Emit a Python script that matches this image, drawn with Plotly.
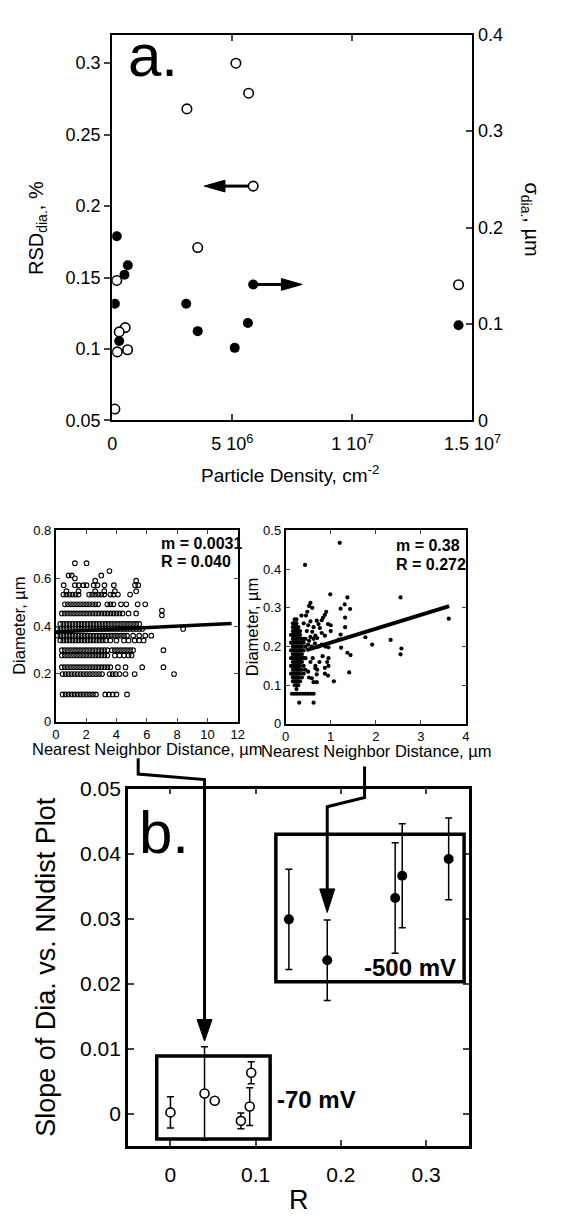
import plotly.graph_objects as go

W, H = 572, 1220
FONT = "Liberation Sans, Arial, Helvetica, sans-serif"

# ---------------- (a) dispersion vs. particle density ----------------
density_open = [5.15e6, 5.68e6, 3.11e6, 5.87e6, 3.56e6, 0.19e6, 14.42e6, 0.54e6, 0.29e6, 0.21e6, 0.64e6, 0.11e6]
rsd_open = [0.300, 0.279, 0.268, 0.214, 0.171, 0.148, 0.145, 0.115, 0.112, 0.098, 0.0995, 0.058]
density_filled = [0.19e6, 0.65e6, 0.51e6, 0.11e6, 3.08e6, 5.87e6, 5.65e6, 3.56e6, 5.10e6, 14.42e6, 0.29e6]
sigma_filled = [0.191, 0.161, 0.151, 0.121, 0.121, 0.141, 0.101, 0.0926, 0.0753, 0.0987, 0.0824]

density_ticks = [0, 5e6, 1e7, 1.5e7]
density_ticktext = ["0", "5 10<sup>6</sup>", "1 10<sup>7</sup>", "1.5 10<sup>7</sup>"]
rsd_ticks = [0.05, 0.1, 0.15, 0.2, 0.25, 0.3]
rsd_ticktext = ["0.05", "0.1", "0.15", "0.2", "0.25", "0.3"]
sigma_ticks = [0, 0.1, 0.2, 0.3, 0.4]
sigma_ticktext = ["0", "0.1", "0.2", "0.3", "0.4"]

# ---------------- inset: -70 mV deposit (diameter rows, NN distances) ----------------
ctrl_diam = [0.663, 0.630, 0.612, 0.600, 0.590, 0.571, 0.546, 0.532, 0.491, 0.465,
             0.453, 0.445, 0.409, 0.388, 0.360, 0.340, 0.299, 0.277, 0.228, 0.199, 0.114]
ctrl_nn = [
    [1.26, 2.03],
    [3.54],
    [0.85, 1.05, 3.00],
    [1.26],
    [2.60, 5.30],
    [0.52, 1.26, 1.51, 1.82, 2.03, 2.50, 2.75, 3.21, 3.83, 5.23, 5.44],
    [0.70, 1.50, 2.60, 3.20, 3.90, 5.30],
    [0.50, 0.70, 0.90, 1.10, 1.30, 1.50, 2.20, 2.40, 2.60, 2.80, 3.00, 3.20, 3.60, 3.80, 4.10, 4.90],
    [0.60, 0.80, 1.00, 1.20, 1.40, 1.60, 1.80, 2.00, 2.20, 2.40, 2.60, 2.80, 3.40, 3.60, 3.80,
     4.30, 4.65, 5.40, 5.90],
    [7.00],
    [0.40, 0.60, 0.80, 1.00, 1.20, 1.40, 1.60, 1.80, 2.00, 2.20, 2.40, 2.60, 2.80, 3.00, 3.20,
     3.40, 3.60, 3.80, 4.00, 4.20, 4.40, 4.80, 5.30],
    [7.00],
    [0.30, 0.50, 0.70, 0.90, 1.10, 1.30, 1.50, 1.70, 1.90, 2.10, 2.30, 2.50, 2.70, 2.90, 3.10,
     3.30, 3.50, 3.70, 3.90, 4.10, 4.30, 4.50, 4.70, 4.90, 5.10, 5.30, 5.50],
    [0.10, 0.30, 0.50, 0.70, 0.90, 1.10, 1.30, 1.50, 1.70, 1.90, 2.10, 2.30, 2.50, 2.70, 2.90,
     3.10, 3.30, 3.50, 3.70, 3.90, 4.10, 4.30, 4.50, 4.70, 4.90, 5.10, 5.30, 5.50, 5.70, 8.40],
    [0.10, 0.30, 0.50, 0.70, 0.90, 1.10, 1.30, 1.50, 1.70, 1.90, 2.10, 2.30, 2.50, 2.70, 2.90,
     3.10, 3.30, 3.50, 3.70, 3.90, 4.10, 4.30, 4.50, 4.70, 5.10, 5.50, 5.90, 6.30],
    [0.30, 0.50, 0.70, 0.90, 1.10, 1.30, 1.50, 1.70, 1.90, 2.10, 2.30, 2.50, 2.70, 2.90, 3.10,
     3.30, 3.60, 4.00, 4.50, 4.80, 5.20, 5.50, 5.80],
    [0.40, 0.60, 0.80, 1.00, 1.20, 1.40, 1.60, 1.80, 2.00, 2.20, 2.40, 2.60, 2.80, 3.00, 3.20,
     3.40, 3.70, 3.90, 4.10, 4.30, 4.50, 4.70, 4.90, 5.10, 7.10],
    [0.40, 0.60, 0.80, 1.00, 1.20, 1.40, 1.60, 1.80, 2.00, 2.20, 2.40, 2.60, 2.80, 3.00, 3.20,
     3.40, 3.90, 4.20, 4.50, 4.80, 5.00],
    [0.40, 0.60, 0.80, 1.00, 1.20, 1.40, 1.60, 1.80, 2.00, 2.20, 2.40, 2.60, 2.80, 3.00, 3.20,
     3.40, 3.60, 4.10, 4.60, 5.70, 7.10],
    [0.45, 0.65, 0.85, 1.05, 1.25, 1.45, 1.65, 1.85, 2.05, 2.25, 2.45, 2.65, 2.85, 3.05, 3.55,
     3.75, 3.95, 4.20, 4.60, 5.20, 7.80],
    [0.45, 0.65, 0.85, 1.05, 1.25, 1.45, 1.65, 1.85, 2.05, 2.25, 2.45, 2.65, 3.26, 3.50, 3.75,
     4.00, 4.70],
]
ctrl_fit_m, ctrl_fit_b = 0.0031, 0.375
ctrl_fit_x = [0.0, 11.6]

# ---------------- inset: -500 mV deposit ----------------
neg_col_x = [0.12, 0.16, 0.20, 0.24, 0.28, 0.32, 0.36, 0.40, 0.44]
neg_col_y = [
    [0.13, 0.15, 0.17, 0.19, 0.21, 0.23],
    [0.11, 0.12, 0.13, 0.14, 0.15, 0.16, 0.17, 0.18, 0.19, 0.20, 0.21, 0.22, 0.23, 0.24, 0.25, 0.26],
    [0.10, 0.11, 0.12, 0.13, 0.14, 0.15, 0.16, 0.17, 0.18, 0.19, 0.20, 0.21, 0.22, 0.23, 0.24, 0.25, 0.26, 0.27],
    [0.09, 0.10, 0.11, 0.12, 0.13, 0.14, 0.15, 0.16, 0.17, 0.18, 0.19, 0.20, 0.21, 0.22, 0.23, 0.24, 0.25, 0.26, 0.27],
    [0.10, 0.11, 0.12, 0.13, 0.14, 0.15, 0.16, 0.17, 0.18, 0.19, 0.20, 0.21, 0.22, 0.23, 0.24, 0.25],
    [0.11, 0.13, 0.14, 0.15, 0.16, 0.17, 0.18, 0.19, 0.20, 0.21, 0.22, 0.23, 0.24],
    [0.12, 0.14, 0.16, 0.17, 0.18, 0.19, 0.20, 0.21, 0.22],
    [0.13, 0.15, 0.17, 0.19, 0.21, 0.22],
    [0.14, 0.17, 0.20, 0.22],
]
neg_nn = [1.20, 0.43, 2.55, 0.99, 1.37, 3.62, 2.57, 2.55, 2.33, 1.92, 1.77, 1.41, 1.07, 1.23,
          1.37, 1.44, 1.43, 1.31, 1.22, 1.32, 1.32, 1.22, 1.18,
          0.55, 0.52, 0.48, 0.45, 0.59, 0.87, 0.83, 0.80, 0.90, 0.94, 0.69, 0.73, 0.62, 0.76,
          0.59, 0.80, 1.00, 1.00, 0.66, 0.87, 0.52, 0.50, 0.55, 0.35, 0.40, 0.47,
          0.50, 0.58, 0.65, 0.72, 0.80, 0.88, 0.95, 0.55, 0.62, 0.70,
          0.55, 0.60, 0.66, 0.70, 0.75, 0.82, 0.87, 0.87, 0.92, 0.95, 0.66, 0.69, 0.52, 0.69,
          0.62, 0.50, 0.58, 0.95, 0.94,
          0.14, 0.20, 0.26, 0.32, 0.38, 0.44, 0.50, 0.56, 0.62, 0.30, 0.62]
neg_diam = [0.468, 0.411, 0.327, 0.335, 0.327, 0.272, 0.195, 0.180, 0.217, 0.205, 0.224, 0.133, 0.110, 0.197,
            0.184, 0.178, 0.297, 0.309, 0.298, 0.275, 0.250, 0.231, 0.218,
            0.313, 0.305, 0.290, 0.280, 0.300, 0.282, 0.275, 0.268, 0.290, 0.258, 0.267, 0.258, 0.250, 0.248,
            0.238, 0.235, 0.255, 0.240, 0.228, 0.228, 0.215, 0.255, 0.265, 0.280, 0.260, 0.240,
            0.205, 0.200, 0.208, 0.200, 0.205, 0.200, 0.198, 0.225, 0.220, 0.222,
            0.160, 0.170, 0.150, 0.140, 0.160, 0.175, 0.145, 0.130, 0.160, 0.170, 0.144, 0.128, 0.120, 0.108,
            0.108, 0.135, 0.118, 0.150, 0.125,
            0.078, 0.078, 0.078, 0.078, 0.078, 0.078, 0.078, 0.078, 0.078, 0.055, 0.055]
neg_fit_m, neg_fit_b = 0.036, 0.174
neg_fit_x = [0.46, 3.63]

# ---------------- (b) slope vs. correlation coefficient ----------------
r_low = [0.0, 0.040, 0.052, 0.0827, 0.093, 0.0948]
slope_low = [0.0002, 0.0031, 0.0020, -0.0011, 0.0011, 0.0063]
err_low = [0.0024, 0.0072, 0.0, 0.0012, 0.0029, 0.0017]
r_high = [0.139, 0.184, 0.2637, 0.272, 0.3265]
slope_high = [0.0299, 0.0236, 0.0332, 0.0366, 0.0392]
err_high = [0.0077, 0.0062, 0.0085, 0.0080, 0.0063]
group_labels = ["-70 mV", "-500 mV"]


# ---------------- layout helpers (pixel -> paper) ----------------
def PX(x):
    return x / W


def PY(y):
    return 1 - y / H


A_BOX = (114, 497, 23, 416)      # left, right, top, bottom in pixels
L_BOX = (54, 247.4, 528, 722.7)
R_BOX = (298.4, 490, 528, 725)
B_BOX = (130.6, 493, 791, 1155)


def dom(box):
    l, r, t, b = box
    return [PX(l), PX(r)], [PY(b), PY(t)]


A_RANGE_X, A_RANGE_Y, A_RANGE_Y2 = [0, 1.5e7], [0.05, 0.32], [0, 0.4]
L_RANGE_X, L_RANGE_Y = [0, 12], [0, 0.8]
R_RANGE_X, R_RANGE_Y = [0, 4], [0, 0.5]
B_RANGE_X, B_RANGE_Y = [-0.05, 0.35], [-0.005, 0.05]


def to_px(box, rx, ry, x, y):
    l, r, t, b = box
    return (l + (x - rx[0]) / (rx[1] - rx[0]) * (r - l),
            b - (y - ry[0]) / (ry[1] - ry[0]) * (b - t))


fig = go.Figure()

# panel (a)
fig.add_trace(go.Scatter(x=density_filled, y=sigma_filled, xaxis="x", yaxis="y2", mode="markers",
                         marker=dict(symbol="circle", size=10, color="black"), showlegend=False))
fig.add_trace(go.Scatter(x=density_open, y=rsd_open, xaxis="x", yaxis="y", mode="markers",
                         marker=dict(symbol="circle", size=9.5, color="white",
                                     line=dict(color="black", width=1.6)), showlegend=False))

# inset -70 mV
cx, cy = [], []
for d, row in zip(ctrl_diam, ctrl_nn):
    cx += row
    cy += [d] * len(row)
fig.add_trace(go.Scatter(x=cx, y=cy, xaxis="x3", yaxis="y3", mode="markers",
                         marker=dict(symbol="circle-open", size=4.6, color="black", line=dict(width=1.1)),
                         showlegend=False))
fig.add_trace(go.Scatter(x=ctrl_fit_x, y=[ctrl_fit_b + ctrl_fit_m * v for v in ctrl_fit_x],
                         xaxis="x3", yaxis="y3", mode="lines", line=dict(color="black", width=3.5),
                         showlegend=False))

# inset -500 mV
nx, ny = list(neg_nn), list(neg_diam)
for xc, col in zip(neg_col_x, neg_col_y):
    nx += [xc] * len(col)
    ny += col
fig.add_trace(go.Scatter(x=nx, y=ny, xaxis="x4", yaxis="y4", mode="markers",
                         marker=dict(symbol="circle", size=4.2, color="black"), showlegend=False))
fig.add_trace(go.Scatter(x=neg_fit_x, y=[neg_fit_b + neg_fit_m * v for v in neg_fit_x],
                         xaxis="x4", yaxis="y4", mode="lines", line=dict(color="black", width=4),
                         showlegend=False))

# panel (b)
fig.add_trace(go.Scatter(x=r_low, y=slope_low, xaxis="x5", yaxis="y5", mode="markers",
                         error_y=dict(type="data", array=err_low, visible=True, color="black",
                                      thickness=1.5, width=3.5),
                         marker=dict(symbol="circle", size=9, color="white",
                                     line=dict(color="black", width=1.6)), showlegend=False))
fig.add_trace(go.Scatter(x=r_high, y=slope_high, xaxis="x5", yaxis="y5", mode="markers",
                         error_y=dict(type="data", array=err_high, visible=True, color="black",
                                      thickness=1.5, width=3.5),
                         marker=dict(symbol="circle", size=10, color="black"), showlegend=False))

tickfont_a = dict(family=FONT, size=18, color="black")
tickfont_i = dict(family=FONT, size=13, color="black")
tickfont_b = dict(family=FONT, size=21, color="black")
common = dict(showgrid=False, zeroline=False, showline=True, linecolor="black")

adx, ady = dom(A_BOX)
ldx, ldy = dom(L_BOX)
rdx, rdy = dom(R_BOX)
bdx, bdy = dom(B_BOX)

fig.update_layout(
    width=W, height=H, margin=dict(l=0, r=0, t=0, b=0),
    paper_bgcolor="white", plot_bgcolor="white", showlegend=False,
    font=dict(family=FONT, color="black"),
    xaxis=dict(domain=adx, anchor="y", range=A_RANGE_X, tickvals=density_ticks, ticktext=density_ticktext,
               ticks="inside", ticklen=6, tickwidth=1.5, mirror="ticks", linewidth=2,
               tickfont=tickfont_a, ticklabelstandoff=6, **common),
    yaxis=dict(domain=ady, anchor="x", range=A_RANGE_Y, tickvals=rsd_ticks, ticktext=rsd_ticktext,
               ticks="outside", ticklen=6, tickwidth=1.5, linewidth=2, tickfont=tickfont_a, **common),
    yaxis2=dict(anchor="x", overlaying="y", side="right", range=A_RANGE_Y2, tickvals=sigma_ticks,
                ticktext=sigma_ticktext, ticks="inside", ticklen=6, tickwidth=1.5, linewidth=2,
                tickfont=tickfont_a, **common),
    xaxis3=dict(domain=ldx, anchor="y3", range=L_RANGE_X, dtick=2, ticks="inside", ticklen=4,
                mirror="ticks", linewidth=1.8, tickfont=tickfont_i, **common),
    yaxis3=dict(domain=ldy, anchor="x3", range=L_RANGE_Y, tickvals=[0, 0.2, 0.4, 0.6, 0.8],
                ticktext=["0", "0.2", "0.4", "0.6", "0.8"], ticks="inside", ticklen=4,
                mirror="ticks", linewidth=1.8, tickfont=tickfont_i, **common),
    xaxis4=dict(domain=rdx, anchor="y4", range=R_RANGE_X, dtick=1, ticks="inside", ticklen=4,
                mirror="ticks", linewidth=1.8, tickfont=tickfont_i, **common),
    yaxis4=dict(domain=rdy, anchor="x4", range=R_RANGE_Y, tickvals=[0, 0.1, 0.2, 0.3, 0.4, 0.5],
                ticktext=["0", "0.1", "0.2", "0.3", "0.4", "0.5"], ticks="inside", ticklen=4,
                mirror="ticks", linewidth=1.8, tickfont=tickfont_i, **common),
    xaxis5=dict(domain=bdx, anchor="y5", range=B_RANGE_X, tickvals=[0, 0.1, 0.2, 0.3],
                ticktext=["0", "0.1", "0.2", "0.3"], ticks="inside", ticklen=6, tickwidth=1.5,
                mirror="ticks", linewidth=2.5, tickfont=tickfont_b, ticklabelstandoff=8, **common),
    yaxis5=dict(domain=bdy, anchor="x5", range=B_RANGE_Y, tickvals=[0, 0.01, 0.02, 0.03, 0.04, 0.05],
                ticktext=["0", "0.01", "0.02", "0.03", "0.04", "0.05"], ticks="inside", ticklen=6,
                tickwidth=1.5, mirror="ticks", linewidth=2.5, tickfont=tickfont_b, **common),
)

shapes = []


def path_shape(pts, closed=False, fill=None, width=3):
    d = "M " + " L ".join(f"{PX(x):.5f},{PY(y):.5f}" for x, y in pts)
    if closed:
        d += " Z"
    return dict(type="path", xref="paper", yref="paper", path=d,
                line=dict(color="black", width=width), fillcolor=fill if fill else "rgba(0,0,0,0)")


def arrow_h(x0, y, direction):
    # horizontal arrow starting beside a marker, pointing left (-1) or right (+1)
    start = x0 + direction * 5
    base = x0 + direction * 30
    tip = x0 + direction * 52
    return [path_shape([(start, y), (base, y)], width=3),
            path_shape([(base, y - 6), (tip, y), (base, y + 6)], closed=True, fill="black", width=1)]


ox, oy = to_px(A_BOX, A_RANGE_X, A_RANGE_Y, density_open[3], rsd_open[3])
fx, fy = to_px(A_BOX, A_RANGE_X, A_RANGE_Y2, density_filled[5], sigma_filled[5])
shapes += arrow_h(ox, oy, -1)
shapes += arrow_h(fx, fy, +1)

# connectors from the insets to panel (b)
lx, _ = to_px(B_BOX, B_RANGE_X, B_RANGE_Y, r_low[1], 0)
rx, _ = to_px(B_BOX, B_RANGE_X, B_RANGE_Y, r_high[1], 0)
shapes.append(path_shape([(141.6, 760), (141.6, 776), (lx, 781.7), (lx, 1027)], width=3))
shapes.append(path_shape([(lx - 8, 1026), (lx, 1048), (lx + 8, 1026)], closed=True, fill="black", width=1))
shapes.append(path_shape([(382.3, 768.3), (382.3, 800), (rx, 809.3), (rx, 894)], width=3))
shapes.append(path_shape([(rx - 8, 893), (rx, 917), (rx + 8, 893)], closed=True, fill="black", width=1))

# group boxes in panel (b)
shapes.append(dict(type="rect", xref="x5", yref="y5", x0=-0.0161, x1=0.117, y0=-0.0039, y1=0.00887,
                   line=dict(color="black", width=3.5)))
shapes.append(dict(type="rect", xref="x5", yref="y5", x0=0.1237, x1=0.3446, y0=0.0203, y1=0.043,
                   line=dict(color="black", width=3.5)))

fig.update_layout(shapes=shapes)


def ann(text, x, y, size, xanchor="center", yanchor="middle", angle=0, bold=False):
    if bold:
        text = f"<b>{text}</b>"
    return dict(text=text, x=PX(x), y=PY(y), xref="paper", yref="paper", showarrow=False,
                xanchor=xanchor, yanchor=yanchor, textangle=angle,
                font=dict(family=FONT, size=size, color="black"))


annotations = [
    ann("a.", 129, 44, 60, xanchor="left"),
    ann("RSD<sub>dia.</sub>, %", 34, 220, 20, angle=-90),
    ann("σ<sub>dia.</sub>, µm", 559, 211, 20, angle=90),
    ann("Particle Density, cm<sup>-2</sup>", 303, 470, 19),
    ann("Diameter, µm", 15, 625, 16.5, angle=-90),
    ann("Diameter, µm", 262, 626, 16.5, angle=-90),
    ann("Nearest Neighbor Distance, µm", 151, 751, 16.5),
    ann("Nearest Neighbor Distance, µm", 395, 753, 16.5),
    ann(f"m = {ctrl_fit_m}", 164, 541, 16, xanchor="left", bold=True),
    ann("R = 0.040", 164, 560, 16, xanchor="left", bold=True),
    ann("m = 0.38", 414, 543, 16, xanchor="left", bold=True),
    ann("R = 0.272", 414, 563, 16, xanchor="left", bold=True),
    ann("b.", 140, 836, 60, xanchor="left"),
    ann("Slope of Dia. vs. NNdist Plot", 44, 972, 27, angle=-90),
    ann("R", 313, 1210, 27),
    ann(group_labels[0], 287, 1107, 24, xanchor="left", bold=True),
    ann(group_labels[1], 380, 973, 24, xanchor="left", bold=True),
]
fig.update_layout(annotations=annotations)

fig.write_html("out.html")
